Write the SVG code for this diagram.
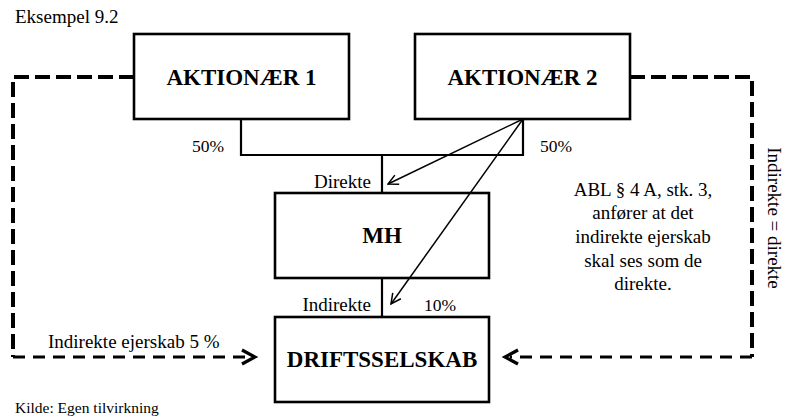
<svg xmlns="http://www.w3.org/2000/svg" width="794" height="419" viewBox="0 0 794 419">
<defs>
<style>
text{font-family:"Liberation Serif","Times New Roman",serif;fill:#000}
.box{fill:#fff;stroke:#000;stroke-width:2.6}
.title{font-weight:bold;font-size:23px;text-anchor:middle}
.lbl{font-size:19px}
.line{fill:none;stroke:#000;stroke-width:2.2}
.thin{fill:none;stroke:#000;stroke-width:1.5}
.dash{fill:none;stroke:#000;stroke-width:4;stroke-dasharray:15 6}
.dash2{fill:none;stroke:#000;stroke-width:3;stroke-dasharray:12 8}
.chev{fill:none;stroke:#000;stroke-width:3.2}
</style>
<marker id="ah" viewBox="0 0 12 12" refX="11" refY="6" markerWidth="12" markerHeight="12" markerUnits="userSpaceOnUse" orient="auto">
<path d="M1,1 L11,6 L1,11" fill="none" stroke="#000" stroke-width="1.5"/>
</marker>
</defs>
<rect width="794" height="419" fill="#fff"/>
<text x="15" y="23" class="lbl">Eksempel 9.2</text>
<text x="15" y="413" style="font-size:15.5px">Kilde: Egen tilvirkning</text>
<g id="aktionaer1">
<rect class="box" x="134" y="34" width="215" height="85"/>
<text class="title" x="241.5" y="85">AKTIONÆR 1</text>
</g>
<g id="aktionaer2">
<rect class="box" x="415" y="34" width="215" height="85"/>
<text class="title" x="522.5" y="85">AKTIONÆR 2</text>
</g>
<g id="mh">
<rect class="box" x="275" y="193" width="214" height="85"/>
<text class="title" x="382" y="243">MH</text>
</g>
<g id="driftsselskab">
<rect class="box" x="275" y="317" width="214" height="85"/>
<text class="title" x="382" y="367">DRIFTSSELSKAB</text>
</g>
<g id="connectors">
<path class="line" d="M241,119 V155 H523 V119"/>
<path class="line" d="M382,155 V193"/>
<path class="line" d="M382,278 V317"/>
<line class="thin" x1="523" y1="119" x2="388" y2="184" marker-end="url(#ah)"/>
<line class="thin" x1="523" y1="119" x2="391" y2="304" marker-end="url(#ah)"/>
<path class="dash" d="M134,77 H13 V357"/>
<path class="dash2" d="M13,357 H250"/>
<path class="chev" d="M242,350 L255,357 L242,364"/>
<path class="dash" d="M630,77 H752 V357"/>
<path class="dash2" d="M752,357 H510"/>
<path class="chev" d="M518,350 L505,357 L518,364"/>
</g>
<g id="labels">
<text class="lbl" x="224" y="152" text-anchor="end" style="font-size:17.5px">50%</text>
<text class="lbl" x="540" y="152" style="font-size:17.5px">50%</text>
<text class="lbl" x="371" y="188" text-anchor="end">Direkte</text>
<text class="lbl" x="371" y="311" text-anchor="end">Indirekte</text>
<text class="lbl" x="424" y="311" style="font-size:17.5px">10%</text>
<text class="lbl" x="48" y="348">Indirekte ejerskab 5 %</text>
<g class="lbl" text-anchor="middle">
<text x="643" y="196">ABL § 4 A, stk. 3,</text>
<text x="643" y="219">anfører at det</text>
<text x="643" y="243">indirekte ejerskab</text>
<text x="643" y="267">skal ses som de</text>
<text x="643" y="290">direkte.</text>
</g>
<text class="lbl" text-anchor="middle" transform="translate(768,218) rotate(90)">Indirekte = direkte</text>
</g>
</svg>
